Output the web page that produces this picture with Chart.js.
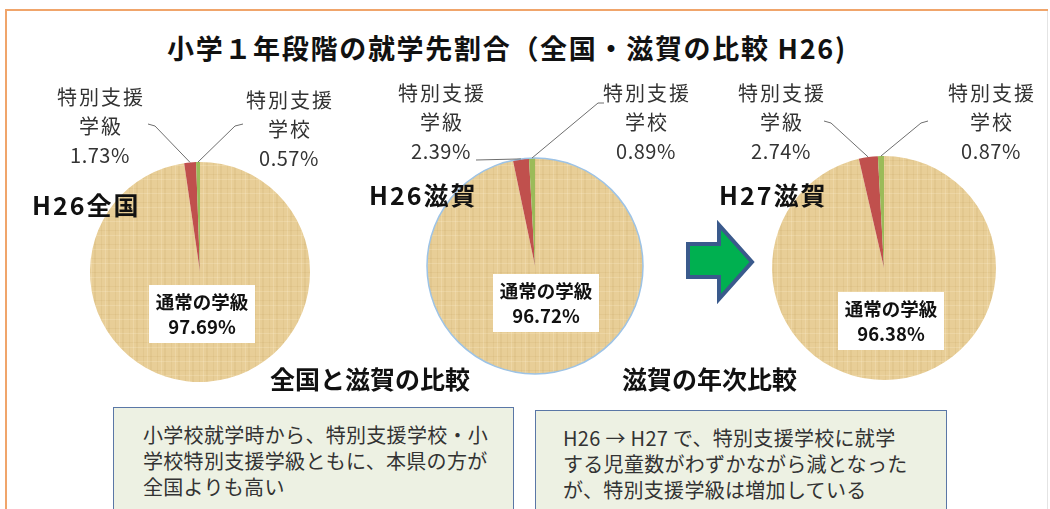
<!DOCTYPE html>
<html>
<head>
<meta charset="utf-8">
<script src="https://cdn.jsdelivr.net/npm/chart.js@4"></script>
<style>
  body { margin: 0; background: #fff; font-family: "Noto Sans CJK JP", sans-serif; }
  #wrap { position: relative; width: 1050px; height: 509px; overflow: hidden; }
  #wrap canvas { position: absolute; left: 0; top: 0; }
  .frame-top { position: absolute; left: 5px; top: 9px; width: 1043px; height: 2px; background: #F0A56B; }
  .frame-left { position: absolute; left: 5px; top: 9px; width: 2px; height: 500px; background: #F0A56B; }
  .frame-right { position: absolute; left: 1047px; top: 11px; width: 1px; height: 498px; background: #E4E4E4; }
  .txt { position: absolute; white-space: nowrap; color: #111; font-weight: bold; }
  .box { position: absolute; background: #EDF1E3; border: 1px solid #5A77A6; border-bottom: none;
         color: #333; font-size: 20px; line-height: 26px; padding-top: 14px; box-sizing: border-box; letter-spacing: 0.3px; }
</style>
</head>
<body>
<div id="wrap">
  <div class="frame-top"></div>
  <div class="frame-left"></div>
  <div class="frame-right"></div>
  <div class="txt" style="left:167px; top:28px; font-size:27px; letter-spacing:1.7px;">小学１年段階の就学先割合（全国・滋賀の比較 H26)</div>
  <canvas id="pie1" width="1050" height="509"></canvas>
  <canvas id="pie2" width="1050" height="509"></canvas>
  <canvas id="pie3" width="1050" height="509"></canvas>
  <div class="txt" style="left:32px; top:186px; font-size:25px; letter-spacing:2px;">H26全国</div>
  <div class="txt" style="left:369px; top:176px; font-size:25px; letter-spacing:2px;">H26滋賀</div>
  <div class="txt" style="left:719px; top:176px; font-size:25px; letter-spacing:2px;">H27滋賀</div>
  <div class="txt" style="left:270px; top:360px; font-size:25px;">全国と滋賀の比較</div>
  <div class="txt" style="left:622px; top:360px; font-size:25px;">滋賀の年次比較</div>
  <svg style="position:absolute; left:680px; top:220px;" width="80" height="90">
    <polygon points="8,24 39,24 39,5 72,42 39,79 39,57 8,57" fill="#00B050" stroke="#3A5A8C" stroke-width="4" stroke-linejoin="miter"/>
  </svg>
  <div class="box" style="left:113px; top:407px; width:401px; height:110px; padding-left:29px;">小学校就学時から、特別支援学校・小<br>学校特別支援学級ともに、本県の方が<br>全国よりも高い</div>
  <div class="box" style="left:535px; top:410px; width:412px; height:110px; padding-left:27px;">H26 → H27 で、特別支援学校に就学<br>する児童数がわずかながら減となった<br>が、特別支援学級は増加している</div>
</div>
<script>
const groups = ['H26全国', 'H26滋賀', 'H27滋賀'];
const categories = ['通常の学級', '特別支援学級', '特別支援学校'];
const regular = [97.69, 96.72, 96.38];
const specialClass = [1.73, 2.39, 2.74];
const specialSchool = [0.57, 0.89, 0.87];

// woven tan texture for the big slice
function makePattern() {
    const c = document.createElement('canvas');
    c.width = 14; c.height = 14;
    const g = c.getContext('2d');
    g.fillStyle = '#E8CE97';
    g.fillRect(0, 0, 14, 14);
    g.fillStyle = 'rgba(190,150,80,0.12)';
    g.fillRect(3, 0, 1, 14);
    g.fillRect(10, 0, 2, 14);
    g.fillRect(0, 6, 14, 1);
    g.fillStyle = 'rgba(255,245,220,0.22)';
    g.fillRect(7, 0, 1, 14);
    g.fillRect(0, 11, 14, 1);
    return g.createPattern(c, 'repeat');
}

// per-pie layout (page coordinates)
const layouts = [
    {
        padding: { left: 90, right: 740, top: 162, bottom: 127 },
        inner: { dx: 2, dy: 42 },
        labels: [null,
            { x: 100, y: 97, from: [[148, 124], [155, 126]] },
            { x: 289, y: 100, from: [[243, 124], [235, 126]] }],
        outline: false
    },
    {
        padding: { left: 427, right: 407, top: 158, bottom: 135 },
        inner: { dx: 11, dy: 37 },
        labels: [null,
            { x: 441, y: 93, from: [[476, 160]] },
            { x: 646, y: 93, from: [[604, 103], [598, 103]] }],
        outline: true
    },
    {
        padding: { left: 772, right: 54, top: 156, bottom: 129 },
        inner: { dx: 7, dy: 53 },
        labels: [null,
            { x: 781, y: 93, from: [[824, 121], [831, 123]] },
            { x: 991, y: 93, from: [[928, 121], [921, 123]] }],
        outline: false
    }
];

const labelPlugin = {
    id: 'pieLabels',
    afterDatasetsDraw(chart, args, opts) {
        const ctx = chart.ctx;
        const lay = opts.layout;
        const meta = chart.getDatasetMeta(0);
        const values = chart.data.datasets[0].data;
        const arcs = meta.data;
        const cx = arcs[0].x, cy = arcs[0].y, r = arcs[0].outerRadius;
        ctx.save();
        if (lay.outline) {
            ctx.strokeStyle = '#9DC3E6';
            ctx.lineWidth = 1.5;
            ctx.beginPath();
            ctx.arc(cx, cy, r, 0, Math.PI * 2);
            ctx.stroke();
        }
        // inner label for 通常の学級
        const bx = cx + lay.inner.dx, by = cy + lay.inner.dy;
        ctx.fillStyle = '#FFFFFF';
        ctx.fillRect(bx - 53, by - 29, 106, 58);
        ctx.fillStyle = '#111';
        ctx.font = 'bold 18.5px "Noto Sans CJK JP"';
        ctx.textAlign = 'center';
        ctx.textBaseline = 'middle';
        ctx.fillText(chart.data.labels[0], bx, by - 12);
        ctx.fillText(values[0].toFixed(2) + '%', bx, by + 13);
        // outer labels with leader lines
        for (let i = 1; i < arcs.length; i++) {
            const L = lay.labels[i];
            const a = arcs[i];
            const mid = (a.startAngle + a.endAngle) / 2;
            const ex = a.x + Math.cos(mid) * a.outerRadius;
            const ey = a.y + Math.sin(mid) * a.outerRadius;
            ctx.strokeStyle = '#6E6E6E';
            ctx.lineWidth = 1;
            ctx.beginPath();
            ctx.moveTo(L.from[0][0], L.from[0][1]);
            for (let k = 1; k < L.from.length; k++) ctx.lineTo(L.from[k][0], L.from[k][1]);
            ctx.lineTo(ex, ey);
            ctx.stroke();
            const name = chart.data.labels[i];
            ctx.fillStyle = '#333';
            ctx.font = '20px "Noto Sans CJK JP"';
            ctx.letterSpacing = '2px';
            ctx.fillText(name.slice(0, 4), L.x + 1, L.y);
            ctx.fillText(name.slice(4), L.x + 1, L.y + 29);
            ctx.letterSpacing = '0.5px';
            ctx.fillText(values[i].toFixed(2) + '%', L.x, L.y + 58);
            ctx.letterSpacing = '0px';
        }
        ctx.restore();
    }
};

const tan = makePattern();

groups.forEach(function (g, i) {
    const lay = layouts[i];
    new Chart(document.getElementById('pie' + (i + 1)), {
        type: 'pie',
        data: {
            labels: categories,
            datasets: [{
                label: g,
                data: [regular[i], specialClass[i], specialSchool[i]],
                backgroundColor: [tan, '#C0504D', '#9BBB59'],
                borderWidth: 0
            }]
        },
        options: {
            responsive: false,
            animation: false,
            devicePixelRatio: 1,
            rotation: 0,
            layout: { padding: lay.padding },
            plugins: {
                legend: { display: false },
                tooltip: { enabled: false },
                pieLabels: { layout: lay }
            }
        },
        plugins: [labelPlugin]
    });
});
</script>
</body>
</html>
